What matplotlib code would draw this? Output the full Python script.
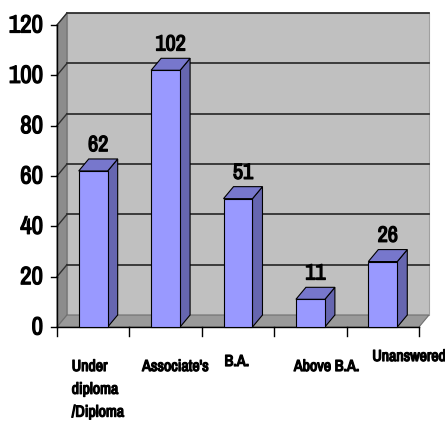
import matplotlib.pyplot as plt
import matplotlib.patches as patches
import matplotlib.patheffects as path_effects

# --- data ---
categories = ["Under\ndiploma\n/Diploma", "Associate's", "B.A.", "Above B.A.", "Unanswered"]
values = [62, 102, 51, 11, 26]
y_ticks = [0, 20, 40, 60, 80, 100, 120]

W, H = 445, 430
fig = plt.figure(figsize=(W / 100, H / 100), dpi=100)
# front plane of the 3d box, in pixels: x 57..419, y 25..327
ax = fig.add_axes([57 / W, 1 - 327 / H, (419 - 57) / W, (327 - 25) / H])
ax.set_xlim(0, len(categories))
ax.set_ylim(0, 120)
ax.axis('off')

FONT = ['Archivo Narrow', 'DejaVu Sans']
heavy = [path_effects.withStroke(linewidth=0.9, foreground='black')]

# depth offset: 10 px right, 12 px up, converted to data units
px_x = len(categories) / (419 - 57)
px_y = 120 / (327 - 25)
ddx, ddy = 10 * px_x, 12 * px_y
n = len(categories)

wall_gray = "#C0C0C0"
side_gray = "#8C8C8C"
floor_gray = "#9A9A9A"

# --- walls ---
ax.add_patch(patches.Rectangle((ddx, ddy), n, 120, facecolor=wall_gray,
                               edgecolor="#A0A0A0", lw=0.8, clip_on=False, zorder=1))
ax.add_patch(patches.Polygon([(0, 0), (ddx, ddy), (ddx, 120 + ddy), (0, 120)],
                             facecolor=side_gray, edgecolor="#707070", lw=0.8,
                             clip_on=False, zorder=1))
ax.add_patch(patches.Polygon([(0, 0), (n, 0), (n + ddx, ddy), (ddx, ddy)],
                             facecolor=floor_gray, edgecolor="#707070", lw=0.8,
                             clip_on=False, zorder=1))

# gridlines on back and side wall
for t in y_ticks[1:]:
    ax.plot([ddx, n + ddx], [t + ddy, t + ddy], color="#303030", lw=1.3,
            clip_on=False, zorder=2)
    ax.plot([0, ddx], [t, t + ddy], color="#303030", lw=1.0, clip_on=False, zorder=2)

# --- axes lines and ticks ---
ax.plot([0, 0], [0, 120], color="black", lw=1, clip_on=False, zorder=3)
ax.plot([0, n], [0, 0], color="black", lw=1, clip_on=False, zorder=3)
for t in y_ticks:
    ax.plot([-6 * px_x, 0], [t, t], color="black", lw=1, clip_on=False, zorder=3)
    ax.text(-14 * px_x, t, str(t), ha='right', va='center', fontsize=18,
            family=FONT, color="black", path_effects=heavy)
for i in range(n + 1):
    ax.plot([i, i], [0, -9 * px_y], color="black", lw=1, clip_on=False, zorder=3)

# --- bars ---
bw = 0.40
for i, v in enumerate(values):
    x0 = i + 0.5 - bw / 2
    x1 = i + 0.5 + bw / 2
    front = patches.Rectangle((x0, 0), bw, v, facecolor="#9999FF", edgecolor="black",
                              lw=0.8, clip_on=False, zorder=5)
    side = patches.Polygon([(x1, 0), (x1 + ddx, ddy), (x1 + ddx, v + ddy), (x1, v)],
                           facecolor="#6666B0", edgecolor="black", lw=0.8,
                           clip_on=False, zorder=4)
    top = patches.Polygon([(x0, v), (x1, v), (x1 + ddx, v + ddy), (x0 + ddx, v + ddy)],
                          facecolor="#7777CC", edgecolor="black", lw=0.8,
                          clip_on=False, zorder=4)
    ax.add_patch(side)
    ax.add_patch(top)
    ax.add_patch(front)
    ax.text(i + 0.5 + ddx / 2, v + ddy + 1.5, str(v), ha='center', va='bottom',
            fontsize=16, family=FONT, color="black", zorder=6, path_effects=heavy)

# --- category labels (pixel offsets from the bar's front-left corner) ---
label_dx = [-7, -9, 1, -2, 4]
label_drop = [32, 32, 27, 32, 22]
for i, (c, dx, d) in enumerate(zip(categories, label_dx, label_drop)):
    ax.text(i + 0.5 - bw / 2 + dx * px_x, -d * px_y, c,
            ha='left', va='top', fontsize=11.5, family=FONT,
            linespacing=1.65, color="black", path_effects=heavy)

fig.savefig("out.png", dpi=100)
